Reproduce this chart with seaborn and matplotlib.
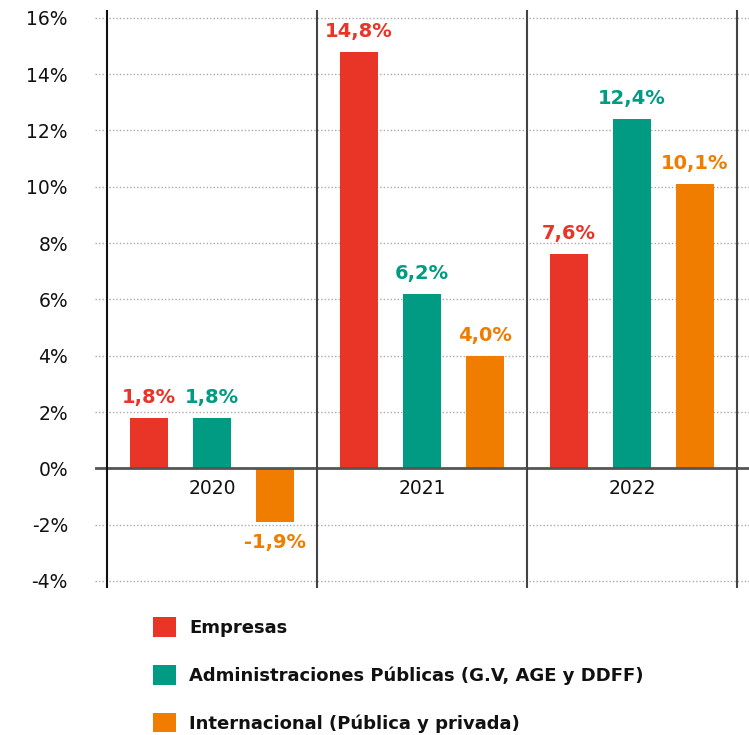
import matplotlib
matplotlib.use("Agg")
import matplotlib.pyplot as plt
import seaborn as sns
import pandas as pd
from matplotlib.patches import Patch

years = ["2020", "2021", "2022"]
series = ["Empresas", "Administraciones Públicas (G.V, AGE y DDFF)", "Internacional (Pública y privada)"]
empresas = [1.8, 14.8, 7.6]
administraciones = [1.8, 6.2, 12.4]
internacional = [-1.9, 4.0, 10.1]
value_labels = [["1,8%", "14,8%", "7,6%"], ["1,8%", "6,2%", "12,4%"], ["-1,9%", "4,0%", "10,1%"]]
yticks = [-4, -2, 0, 2, 4, 6, 8, 10, 12, 14, 16]
colors = ["#E83528", "#009B82", "#F07D00"]

sns.set_theme(style="white")
plt.rcParams["font.family"] = ["DejaVu Sans"]

rows = []
for s, vals in zip(series, [empresas, administraciones, internacional]):
    for y, v in zip(years, vals):
        rows.append({"year": y, "serie": s, "value": v})
df = pd.DataFrame(rows)

fig = plt.figure(figsize=(7.49, 7.35), dpi=100)
ax = fig.add_axes([95/749, 1 - 588/735, 1 - 95/749, (588 - 10)/735])

sns.barplot(data=df, x="year", y="value", hue="serie", order=years, hue_order=series,
            palette=colors, width=0.9, gap=0.4, saturation=1, legend=False, ax=ax,
            errorbar=None, edgecolor="none", linewidth=0)

ax.set_xlim(-0.557, 2.557)
ax.set_ylim(-4.25, 16.28)
ax.set_yticks(yticks)
ax.set_yticklabels([f"{t}%" for t in yticks], fontsize=13.5)
ax.tick_params(axis="y", length=0, pad=19.5, colors="#111111")
ax.set_xticks([])
ax.set_xlabel("")
ax.set_ylabel("")
for sp in ax.spines.values():
    sp.set_visible(False)

for t in yticks:
    if t != 0:
        ax.axhline(t, color="#aaaaaa", lw=1, ls=(0, (1, 1.5)), zorder=0)
ax.axhline(0, color="#555555", lw=2, zorder=3)
for i, xv in enumerate([-0.5, 0.5, 1.5, 2.5]):
    ax.axvline(xv, color="#111111" if i == 0 else "#444444", lw=1.5, zorder=3)

for k, cont in enumerate(ax.containers):
    for j, bar in enumerate(cont):
        v = bar.get_height() if bar.get_y() >= 0 else bar.get_y()
        xc = bar.get_x() + bar.get_width() / 2
        if v >= 0:
            ax.annotate(value_labels[k][j], (xc, v), xytext=(0, 8), textcoords="offset points",
                        ha="center", va="bottom", fontsize=14, fontweight="bold", color=colors[k])
        else:
            ax.annotate(value_labels[k][j], (xc, v), xytext=(0, -8), textcoords="offset points",
                        ha="center", va="top", fontsize=14, fontweight="bold", color=colors[k])

for i, y in enumerate(years):
    ax.annotate(y, (i, 0), xytext=(0, -8), textcoords="offset points", ha="center", va="top",
                fontsize=13.5, color="#111111")

handles = [Patch(facecolor=c, edgecolor="none") for c in colors]
leg = fig.legend(handles, series, loc="upper left", bbox_to_anchor=(153/749, 1 - 617/735),
                 frameon=False, borderpad=0, borderaxespad=0, handlelength=1.3, handleheight=1.3,
                 handletextpad=0.72, labelspacing=1.55, prop={"size": 13, "weight": "bold"})
for txt in leg.get_texts():
    txt.set_color("#111111")

fig.savefig("out.png", dpi=100)
